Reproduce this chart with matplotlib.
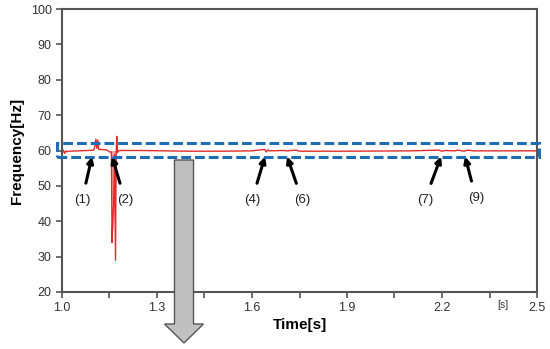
import matplotlib
matplotlib.use('Agg')
import matplotlib.pyplot as plt
from matplotlib.patches import Rectangle, FancyArrow

plt.rcParams['font.family'] = ['Liberation Sans', 'DejaVu Sans']

# frequency trace
time_s = [1.000, 1.004, 1.008, 1.012, 1.016, 1.020, 1.050, 1.080, 1.100, 1.104,
          1.107, 1.110, 1.113, 1.116, 1.120, 1.140, 1.150, 1.156, 1.158, 1.161,
          1.163, 1.166, 1.169, 1.171, 1.173, 1.175, 1.177, 1.180, 1.250, 1.400,
          1.500, 1.600, 1.640, 1.645, 1.650, 1.655, 1.700, 1.710, 1.740, 1.750,
          1.900, 2.100, 2.190, 2.200, 2.210, 2.240, 2.250, 2.270, 2.280, 2.300,
          2.400, 2.500]
freq_hz = [59.6, 60.1, 59.2, 59.9, 59.6, 59.8, 59.9, 60.0, 60.1, 61.2,
           63.2, 60.6, 63.0, 60.3, 60.3, 60.2, 59.6, 59.6, 34.0, 42.0,
           44.5, 58.8, 29.0, 59.0, 64.0, 59.4, 59.7, 60.0, 60.0, 59.8,
           59.8, 59.9, 60.3, 59.6, 60.2, 59.9, 60.0, 59.9, 60.1, 59.8,
           59.8, 59.9, 60.1, 59.8, 60.0, 59.9, 60.1, 59.8, 60.1, 59.9,
           59.9, 59.9]
# oscillation envelope around the large dip
band_t = [1.155, 1.158, 1.163, 1.168, 1.172]
band_lo = [59.0, 35.0, 40.0, 44.0, 58.0]
band_hi = [60.0, 60.0, 60.0, 60.0, 60.0]

event_labels = ['(1)', '(2)', '(4)', '(6)', '(7)', '(9)']
event_t = [1.095, 1.158, 1.641, 1.711, 2.197, 2.273]
label_t = [1.063, 1.199, 1.600, 1.758, 2.146, 2.307]
label_f = [46.0, 46.0, 46.0, 46.0, 46.0, 46.6]

fig = plt.figure(figsize=(5.5, 3.49), dpi=100)
ax = fig.add_axes([62 / 550, 57 / 349, 475 / 550, 283 / 349])

ax.fill_between(band_t, band_lo, band_hi, color='#f29090', alpha=0.8, lw=0)
ax.plot(time_s, freq_hz, color='#e42b2b', lw=1.0)

ax.add_patch(Rectangle((0.985, 58.3), 1.521, 3.8, fill=False, ec='#1f6db5',
                       lw=2.2, ls=(0, (3.2, 1.3)), clip_on=False, zorder=4))

for lab, et, lt, lf in zip(event_labels, event_t, label_t, label_f):
    ax.annotate(lab, xy=(et, 58.3), xytext=(lt, lf), ha='center', va='center',
                fontsize=9.5, color='#222222',
                arrowprops=dict(arrowstyle='-|>', color='black', lw=2.2,
                                mutation_scale=9, shrinkA=6, shrinkB=0))

ax.set_xlim(1.0, 2.5)
ax.set_ylim(20, 100)
ax.set_xticks([1.0, 1.3, 1.6, 1.9, 2.2, 2.5])
ax.set_xticks([1.15, 1.45, 1.75, 2.05, 2.35], minor=True)
ax.set_yticks(range(20, 101, 10))
ax.tick_params(which='both', direction='out', length=4, width=1.2,
               color='#555555', labelsize=9, labelcolor='#333333')
for sp in ax.spines.values():
    sp.set_color('#555555')
    sp.set_linewidth(1.5)

ax.set_ylabel('Frequency[Hz]', fontsize=11, fontweight='bold', labelpad=5)
fig.text(300 / 550, 1 - 325 / 349, 'Time[s]', fontsize=11, fontweight='bold',
         ha='center', va='center')
fig.text(503 / 550, 1 - 305 / 349, '[s]', fontsize=7.5, color='#333333',
         ha='center', va='center')

# big grey arrow pointing down
W, H = 550, 349
fig.patches.append(FancyArrow(184 / W, 1 - 160 / H, 0, -(183 / H),
                              width=19 / W, head_width=39 / W,
                              head_length=19 / H, length_includes_head=True,
                              transform=fig.transFigure, fc='#c0c0c0',
                              ec='#555555', lw=1, zorder=5))

fig.savefig('out.png', dpi=100)
